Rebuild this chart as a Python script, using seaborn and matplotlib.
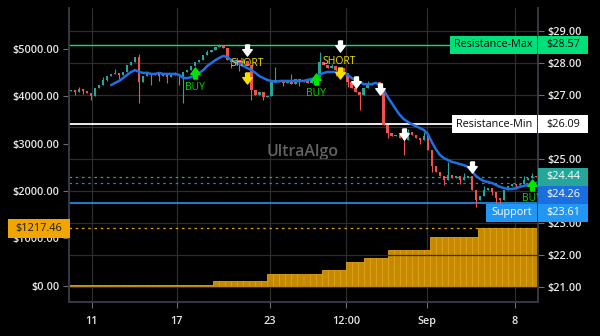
import numpy as np
import matplotlib
matplotlib.use("Agg")
import matplotlib.pyplot as plt
from matplotlib.patches import Rectangle
from matplotlib.path import Path
import seaborn as sns

# candle closes, one per bar (price, right axis)
close = [27.16, 27.09, 27.19, 27.13, 27.06, 26.97, 27.22, 27.31, 27.47, 27.59,
         27.66, 27.69, 27.63, 27.72, 27.94, 28.03, 28.19, 27.41, 27.59, 27.66,
         27.63, 27.69, 27.59, 27.66, 27.56, 27.66, 27.63, 27.59, 27.72, 27.78,
         27.91, 28.03, 28.09, 28.25, 28.34, 28.41, 28.50, 28.53, 28.47, 28.09,
         28.03, 28.09, 28.00, 28.06, 27.94, 27.16, 27.00, 27.09, 26.94, 26.97,
         27.41, 27.47, 27.41, 27.38, 27.47, 27.34, 27.50, 27.41, 27.44, 27.38,
         27.47, 27.56, 28.03, 27.94, 27.84, 27.91, 27.78, 27.84, 27.69, 27.41,
         27.22, 27.09, 27.00, 27.22, 27.31, 27.38, 27.41, 27.22, 26.06, 25.81,
         25.72, 25.75, 25.66, 25.59, 25.84, 25.75, 25.66, 25.59, 25.72, 25.28,
         24.78, 24.59, 24.47, 24.34, 24.50, 24.41, 24.47, 24.34, 24.41, 24.47,
         24.03, 23.72, 23.84, 24.03, 24.09, 23.97, 23.78, 23.72, 24.03, 24.16,
         24.22, 24.19, 24.22, 24.34, 24.41, 24.47, 24.44]
first_open = 27.12
spike_low = {1: 27.00, 3: 27.03, 5: 26.84, 9: 27.44, 12: 27.50, 17: 26.75,
             20: 27.31, 22: 27.44, 24: 27.38, 27: 27.31, 28: 26.75, 40: 27.84,
             42: 27.75, 45: 26.84, 48: 26.84, 53: 27.28, 57: 27.28, 66: 27.59,
             69: 27.25, 72: 26.53, 77: 27.06, 79: 25.66, 83: 25.13, 87: 25.47,
             90: 24.59, 93: 24.19, 97: 24.22, 101: 23.50, 105: 23.88,
             106: 23.56, 107: 23.50, 111: 24.06}
spike_high = {2: 27.25, 8: 27.56, 11: 27.81, 17: 28.28, 19: 27.75, 26: 27.72,
              34: 28.41, 37: 28.59, 43: 28.16, 51: 27.88, 55: 27.66, 62: 28.34,
              65: 27.97, 74: 27.44, 84: 25.94, 88: 25.84, 94: 24.91, 98: 24.56,
              103: 24.16, 113: 24.47, 115: 24.56}

# moving average, starts at bar 10
ma_start = 10
ma = [27.31, 27.38, 27.44, 27.53, 27.63, 27.72, 27.78, 27.72, 27.69, 27.69,
      27.66, 27.66, 27.69, 27.66, 27.66, 27.66, 27.66, 27.63, 27.53, 27.53,
      27.56, 27.63, 27.69, 27.78, 27.91, 28.00, 28.09, 28.16, 28.22, 28.19,
      28.09, 28.03, 27.97, 27.91, 27.84, 27.78, 27.69, 27.59, 27.53, 27.47,
      27.44, 27.41, 27.44, 27.44, 27.44, 27.44, 27.44, 27.44, 27.44, 27.47,
      27.50, 27.53, 27.63, 27.69, 27.72, 27.72, 27.72, 27.72, 27.69, 27.63,
      27.53, 27.47, 27.41, 27.34, 27.34, 27.34, 27.38, 27.31, 27.16, 26.94,
      26.75, 26.56, 26.38, 26.25, 26.16, 26.09, 26.03, 25.97, 25.91, 25.78,
      25.53, 25.31, 25.13, 25.03, 24.97, 24.91, 24.88, 24.84, 24.81, 24.75,
      24.63, 24.47, 24.38, 24.31, 24.28, 24.25, 24.19, 24.13, 24.09, 24.06,
      24.06, 24.09, 24.13, 24.16, 24.19, 24.22, 24.26]

# signals
buy_idx = [31, 61, 115]
buy_y = [27.69, 27.50, 24.19]
buy_text_y = [27.25, 27.06, 23.78]
short_idx = [44, 67]
short_y = [27.53, 27.69]
short_text_y = [27.97, 28.06]
short_exit_y = [28.41, 28.53]
exit_idx = [71, 77, 83, 100]
exit_y = [27.41, 27.19, 25.78, 24.75]

# levels
res_max = 28.57
res_min = 26.09
support = 23.61
last_price = 24.44
ma_last = 24.26

# cumulative profit (left axis), steps at bar positions
equity_at = [-1, 34.4, 48.4, 62.1, 68.3, 72.3, 78.3, 89.5, 100.5]
equity_val = [15, 95, 242, 347, 495, 580, 768, 1042, 1217.46]

xtick_pos = [5.2, 26.4, 49.6, 68.6, 88.8, 110.7]
xtick_labels = ["11", "17", "23", "12:00", "Sep", "8"]
price_ticks = [21, 22, 23, 24, 25, 26, 27, 28, 29]
hidden_price_ticks = [24, 26]  # covered by the level labels
equity_ticks = [0, 1000, 2000, 3000, 4000, 5000]

BG = "#000000"
GRID = "#2c2c31"
TXT = "#e6e6e6"
UP = "#26a69a"
DOWN = "#ef5350"

sns.set_theme(style="dark", rc={
    "axes.facecolor": BG, "figure.facecolor": BG, "savefig.facecolor": BG,
    "axes.edgecolor": "#3a3d4a", "xtick.color": "#6a6d78", "ytick.color": "#6a6d78",
    "axes.labelcolor": TXT,
})
plt.rcParams["font.family"] = ["Open Sans", "DejaVu Sans"]

W, H = 600, 336
fig = plt.figure(figsize=(W / 100, H / 100), dpi=100)
L, R, T, B = 69, 538, 8, 302
ax = fig.add_axes([L / W, (H - B) / H, (R - L) / W, (B - T) / H])
ax2 = ax.twinx()

n = len(close)
xs = np.arange(n)
opens = np.array([first_open] + close[:-1])
closes = np.array(close)
lo = np.minimum(opens, closes)
hi = np.maximum(opens, closes)
lows = np.array([spike_low.get(i, lo[i]) for i in range(n)])
highs = np.array([spike_high.get(i, hi[i]) for i in range(n)])
cols = np.where(closes >= opens, UP, DOWN)

# equity bars (left axis)
bar_x = np.arange(-0.5, n - 0.5, 1.5)
eq = np.array(equity_val)[np.searchsorted(equity_at, bar_x, side="right") - 1]
ax.bar(bar_x, eq, width=1.5, align="edge", color="#c68a00",
       edgecolor="#e0a21c", linewidth=0.6, zorder=2)
ax.axhline(equity_val[-1], color="#e0a000", lw=0.9, ls=(0, (2, 3)), zorder=2)
ax.set_ylim(-337, 5853)
ax.set_yticks(equity_ticks)
ax.set_yticklabels([f"${v:.2f}" for v in equity_ticks])
ax.set_xlim(-0.5, n - 0.5)
ax.set_xticks(xtick_pos)
ax.set_xticklabels(xtick_labels)
ax.grid(True, axis="x", color=GRID, lw=0.9)
ax.grid(False, axis="y")
ax.text(0.499, 0.51, "UltraAlgo", transform=ax.transAxes, ha="center", va="center",
        color="#626262", fontsize=11.5, fontweight="semibold", zorder=1)

# price axis
ax2.grid(True, axis="y", color=GRID, lw=0.9)
ax2.vlines(xs, lows, highs, colors=cols, lw=0.8, zorder=3)
ax2.bar(xs, np.maximum(hi - lo, 0.025), bottom=lo, width=0.6, color=cols,
        linewidth=0, zorder=3)
sns.lineplot(x=np.arange(ma_start, ma_start + len(ma)), y=ma, ax=ax2,
             color="#1f6fe5", lw=1.8, zorder=4)

ax2.axhline(res_max, color="#00e676", lw=1.0, zorder=2)
ax2.axhline(res_min, color="#ffffff", lw=1.3, zorder=2)
ax2.axhline(support, color="#2196f3", lw=1.2, zorder=2)
ax2.axhline(last_price, color=UP, lw=0.9, ls=(0, (2, 3)), zorder=2)
ax2.axhline(ma_last, color="#2a7de1", lw=0.9, ls=(0, (2, 3)), zorder=2)

# arrow markers
down_arrow = Path([(-0.35, 1), (0.35, 1), (0.35, 0.15), (0.85, 0.15), (0, -1),
                   (-0.85, 0.15), (-0.35, 0.15), (-0.35, 1)])
up_arrow = Path([(x, -y) for x, y in down_arrow.vertices])
ax2.plot(buy_idx, buy_y, ls="none", marker=up_arrow, ms=8, color="#00e400", zorder=6)
for i, y in zip(buy_idx, buy_text_y):
    ax2.text(i, y, "BUY", color="#00d800", fontsize=7.5, ha="center", va="center", zorder=6)
ax2.plot(short_idx, short_y, ls="none", marker=down_arrow, ms=8, color="#f2e000", zorder=6)
ax2.plot(short_idx, short_exit_y, ls="none", marker=down_arrow, ms=8, color="white", zorder=6)
for i, y in zip(short_idx, short_text_y):
    ax2.text(i, y, "SHORT", color="#f2e000", fontsize=7.5, ha="center", va="center", zorder=6)
ax2.plot(exit_idx, exit_y, ls="none", marker=down_arrow, ms=8, color="white", zorder=6)

ax2.set_ylim(20.53, 29.72)
ax2.set_yticks(price_ticks)
ax2.set_yticklabels(["" if v in hidden_price_ticks else f"${v:.2f}" for v in price_ticks])
ax2.set_xlim(-0.5, n - 0.5)

for a in (ax, ax2):
    a.spines["top"].set_visible(False)
    for s in ("left", "right", "bottom"):
        a.spines[s].set_color("#363945")
    a.tick_params(length=4, width=0.8, labelsize=7.8, labelcolor=TXT, pad=3)
    for lab in a.get_xticklabels() + a.get_yticklabels():
        lab.set_fontweight("semibold")
ax.tick_params(axis="x", bottom=True, labelbottom=True, pad=6)

# price / level label boxes in pixel space
fig.canvas.draw()
ov = fig.add_axes([0, 0, 1, 1], facecolor="none")
ov.set_xlim(0, W)
ov.set_ylim(H, 0)
ov.axis("off")


def ypix(a, v):
    return H - a.transData.transform((0, v))[1]


def box(x0, x1, yc, text, fc, tc, h=18, ha="center"):
    ov.add_patch(Rectangle((x0, yc - h / 2), x1 - x0, h, fc=fc, ec="none"))
    tx = (x0 + x1) / 2 if ha == "center" else x0 + 8
    ov.text(tx, yc, text, color=tc, fontsize=7.8, ha=ha, va="center")


y = ypix(ax2, res_max)
box(450, 537, y, "Resistance-Max", "#00e07a", "#0a0a0a")
box(538, 588, y, f"${res_max:.2f}", "#00e07a", "#0a0a0a", ha="left")
y = ypix(ax2, res_min)
box(452, 537, y, "Resistance-Min", "#ffffff", "#0a0a0a")
box(538, 588, y, f"${res_min:.2f}", "#ffffff", "#0a0a0a", ha="left")
y1 = ypix(ax2, last_price)
box(538, 588, y1, f"${last_price:.2f}", UP, "white", ha="left")
y2 = max(ypix(ax2, ma_last), y1 + 18)
box(538, 588, y2, f"${ma_last:.2f}", "#1a6ee0", "white", ha="left")
y3 = max(ypix(ax2, support), y2 + 18)
box(486, 537, y3, "Support", "#2196f3", "white")
box(538, 588, y3, f"${support:.2f}", "#2196f3", "white", ha="left")
y = ypix(ax, equity_val[-1])
box(8, 70, y, f"${equity_val[-1]:.2f}", "#f0a500", "#1a1a1a", h=19)

fig.savefig("out.png", dpi=100, facecolor=BG)
